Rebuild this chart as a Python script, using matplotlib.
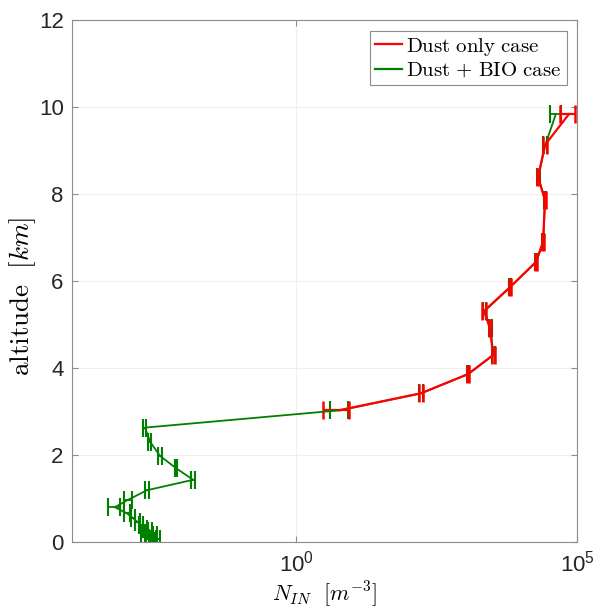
import matplotlib
matplotlib.use("Agg")
import matplotlib.pyplot as plt
from matplotlib.lines import Line2D
from matplotlib.font_manager import FontProperties

plt.rcParams['font.family'] = ['Liberation Sans', 'DejaVu Sans']

# Dust only case
red_alt = [3.03, 3.42, 3.86, 4.30, 4.92, 5.31, 5.86, 6.44, 6.90, 7.86, 8.39, 9.13, 9.84]
red_nin = [5.8, 166, 1140, 3200, 2800, 2200, 6400, 18600, 24800, 26900, 20200, 26900, 72000]
red_err = [2.85, 12, 45, 200, 130, 150, 200, 900, 800, 900, 1000, 2000, 22000]

# Dust + BIO case
green_alt = [0.02, 0.06, 0.10, 0.15, 0.20, 0.25, 0.30, 0.38, 0.45, 0.55, 0.66, 0.80,
             0.97, 1.19, 1.43, 1.70, 1.98, 2.31, 2.63,
             3.03, 3.42, 3.86, 4.30, 4.92, 5.31, 5.86, 6.44, 6.90, 7.86, 8.39, 9.13, 9.84]
green_nin = [2.7e-3, 3.4e-3, 2.2e-3, 3.0e-3, 1.85e-3, 2.45e-3, 2.0e-3, 1.7e-3, 1.5e-3, 1.22e-3, 9.5e-4, 5.8e-4,
             1.0e-3, 2.17e-3, 1.44e-2, 7.1e-3, 3.7e-3, 2.45e-3, 2.0e-3,
             6.2, 168, 1150, 3250, 2850, 2250, 6450, 18700, 25000, 27000, 20400, 27200, 42000]
green_err = [2e-4, 2.5e-4, 1.5e-4, 2.5e-4, 1.5e-4, 2e-4, 1.5e-4, 1.5e-4, 1.5e-4, 1e-4, 1.2e-4, 1.5e-4,
             1.5e-4, 2e-4, 1.1e-3, 3.5e-4, 3.5e-4, 1.5e-4, 1.2e-4,
             2.2, 15, 50, 220, 150, 170, 220, 1000, 900, 1000, 1100, 2600, 9500]

fig = plt.figure(figsize=(5.97, 6.10), dpi=100)
ax = fig.add_axes([0.1206, 0.1115, 0.8459, 0.8555])

ax.errorbar(green_nin, green_alt, xerr=green_err, color='#008000', lw=1.3,
            elinewidth=1.3, capsize=6.5, capthick=1.5)
ax.errorbar(red_nin, red_alt, xerr=red_err, color='#ff0000', lw=1.6,
            elinewidth=1.6, capsize=6.5, capthick=1.8)

ax.set_xscale('log')
ax.set_xlim(1e-4, 1e5)
ax.set_ylim(0, 12)
ax.set_xticks([1e0, 1e5])
ax.minorticks_off()
ax.set_yticks(range(0, 13, 2))
ax.grid(True, color='#efefef', lw=0.8)
ax.set_axisbelow(True)

for s in ax.spines.values():
    s.set_color('#8c8c8c')
    s.set_linewidth(0.8)
ax.tick_params(direction='in', length=4, width=0.8, color='#8c8c8c',
               labelsize=16, labelcolor='#262626', top=True, right=True, pad=6)

ax.set_xlabel(r'$N_{IN}\ \ [m^{-3}]$', fontsize=16, math_fontfamily='cm', labelpad=2)
ax.set_ylabel(r'$\mathrm{altitude}\ \ [km]$', fontsize=19.5, math_fontfamily='cm', va='center')
ax.yaxis.set_label_coords(-0.098, 0.47)

handles = [Line2D([], [], color='#ff0000', lw=1.6), Line2D([], [], color='#008000', lw=1.6)]
labels = [r'$\mathrm{Dust\ only\ case}$', r'$\mathrm{Dust\ {+}\ BIO\ case}$']
leg = ax.legend(handles, labels, loc='upper right', prop=FontProperties(size=15, math_fontfamily='cm'),
                fancybox=False, framealpha=1, edgecolor='#8c8c8c', handlelength=1.3,
                handletextpad=0.2, borderpad=0.25, labelspacing=0.15, borderaxespad=0.5)
leg.get_frame().set_linewidth(0.8)

fig.savefig('out.png', dpi=100)
